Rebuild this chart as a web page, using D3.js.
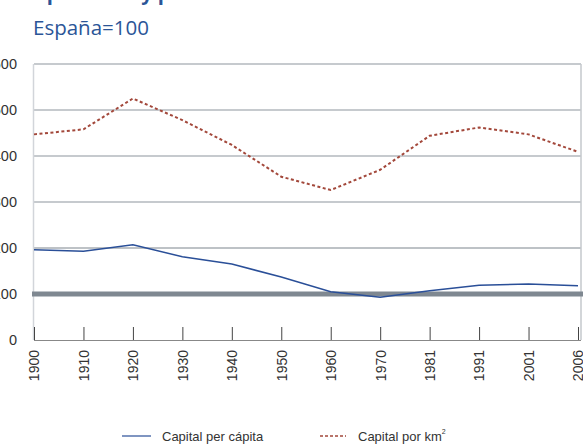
<!DOCTYPE html>
<html>
<head>
<meta charset="utf-8">
<script src="https://cdn.jsdelivr.net/npm/d3@7"></script>
<style>
  html, body { margin: 0; padding: 0; background: #fff; }
  svg { display: block; }
</style>
</head>
<body>
<svg id="chart" width="583" height="445"></svg>
<script>
// Years (category axis) and the two series, Spain = 100
const years = ["1900", "1910", "1920", "1930", "1940", "1950", "1960", "1970", "1981", "1991", "2001", "2006"];
const perCapita = [196, 193, 207, 181, 165, 137, 105, 93, 107, 119, 122, 118];
const perKm2 = [447, 458, 525, 478, 424, 355, 326, 370, 444, 462, 447, 409];
const yTicks = [0, 100, 200, 300, 400, 500, 600];

const svg = d3.select("#chart");
const plotLeft = 34, plotRight = 578, plotTop = 64, plotBottom = 340;

const x = d3.scalePoint().domain(years).range([plotLeft, plotRight]);
const y = d3.scaleLinear().domain([0, 600]).range([plotBottom, plotTop]);

// Title block (upper line runs off the top edge)
svg.append("text")
  .attr("x", 22).attr("y", -0.5)
  .attr("font-family", "Open Sans, sans-serif")
  .attr("font-weight", "bold")
  .attr("font-size", 20)
  .attr("fill", "#2b5597")
  .text("Capitalidad y población 1900-2006");
svg.append("text")
  .attr("x", 33).attr("y", 35)
  .attr("font-family", "Open Sans, sans-serif")
  .attr("font-size", 20.5)
  .attr("fill", "#2b5597")
  .text("España=100");

// Horizontal gridlines
svg.append("g")
  .selectAll("line")
  .data(yTicks.filter(d => d !== 0 && d !== 100))
  .join("line")
  .attr("x1", plotLeft).attr("x2", 581)
  .attr("y1", d => y(d)).attr("y2", d => y(d))
  .attr("stroke", d => d === 200 ? "#7d858d" : "#b3b8be")
  .attr("stroke-width", d => d === 200 ? 1 : 1.5);

// Frame: left and right edges
svg.append("line").attr("x1", plotLeft - 0.5).attr("x2", plotLeft - 0.5).attr("y1", plotTop).attr("y2", plotBottom)
  .attr("stroke", "#d2d5da").attr("stroke-width", 1.5);
svg.append("line").attr("x1", 581).attr("x2", 581).attr("y1", plotTop).attr("y2", plotBottom)
  .attr("stroke", "#c4c8cd").attr("stroke-width", 1.5);

// Y-axis labels
svg.append("g")
  .selectAll("text")
  .data(yTicks)
  .join("text")
  .attr("x", 17)
  .attr("y", d => y(d))
  .attr("dy", "0.35em")
  .attr("text-anchor", "end")
  .attr("font-family", "Liberation Sans, Arial, sans-serif")
  .attr("font-size", 14.5)
  .attr("fill", "#333")
  .text(d => d);

// Spain reference line at 100
svg.append("line")
  .attr("x1", 32).attr("x2", 583)
  .attr("y1", y(100)).attr("y2", y(100))
  .attr("stroke", "#7f8891").attr("stroke-width", 5);

// Bottom axis with upward ticks
const xAxis = d3.axisBottom(x).tickSizeInner(-13).tickSizeOuter(0).tickPadding(0);
const gx = svg.append("g").attr("transform", `translate(0,${plotBottom})`).call(xAxis);
gx.select(".domain").attr("stroke", "#888").attr("d", `M${plotLeft},0.5H${581}`);
gx.selectAll(".tick line").attr("stroke", "#444");
gx.selectAll(".tick text")
  .attr("transform", "rotate(-90)")
  .attr("x", -10).attr("y", 0).attr("dy", "0.35em")
  .attr("text-anchor", "end")
  .attr("font-family", "Liberation Sans, Arial, sans-serif")
  .attr("font-size", 14)
  .attr("fill", "#333");

// Series lines
const line = d3.line().x((d, i) => x(years[i])).y(d => y(d));
svg.append("path").datum(perCapita).attr("d", line)
  .attr("fill", "none").attr("stroke", "#2a4f98").attr("stroke-width", 1.5);
svg.append("path").datum(perKm2).attr("d", line)
  .attr("fill", "none").attr("stroke", "#a3483b").attr("stroke-width", 2)
  .attr("stroke-dasharray", "3,2.5");

// Legend
const lg = svg.append("g").attr("font-family", "Liberation Sans, Arial, sans-serif")
  .attr("font-size", 13).attr("fill", "#333");
lg.append("line").attr("x1", 122).attr("x2", 151).attr("y1", 436).attr("y2", 436)
  .attr("stroke", "#2a4f98").attr("stroke-width", 1.2);
lg.append("text").attr("x", 162).attr("y", 440.5).text("Capital per cápita");
lg.append("line").attr("x1", 320).attr("x2", 346).attr("y1", 436).attr("y2", 436)
  .attr("stroke", "#a3483b").attr("stroke-width", 1.5).attr("stroke-dasharray", "3,2");
const t2 = lg.append("text").attr("x", 358).attr("y", 440.5);
t2.append("tspan").text("Capital por km");
t2.append("tspan").attr("font-size", 7).attr("dy", -7).text("2");
</script>
</body>
</html>
